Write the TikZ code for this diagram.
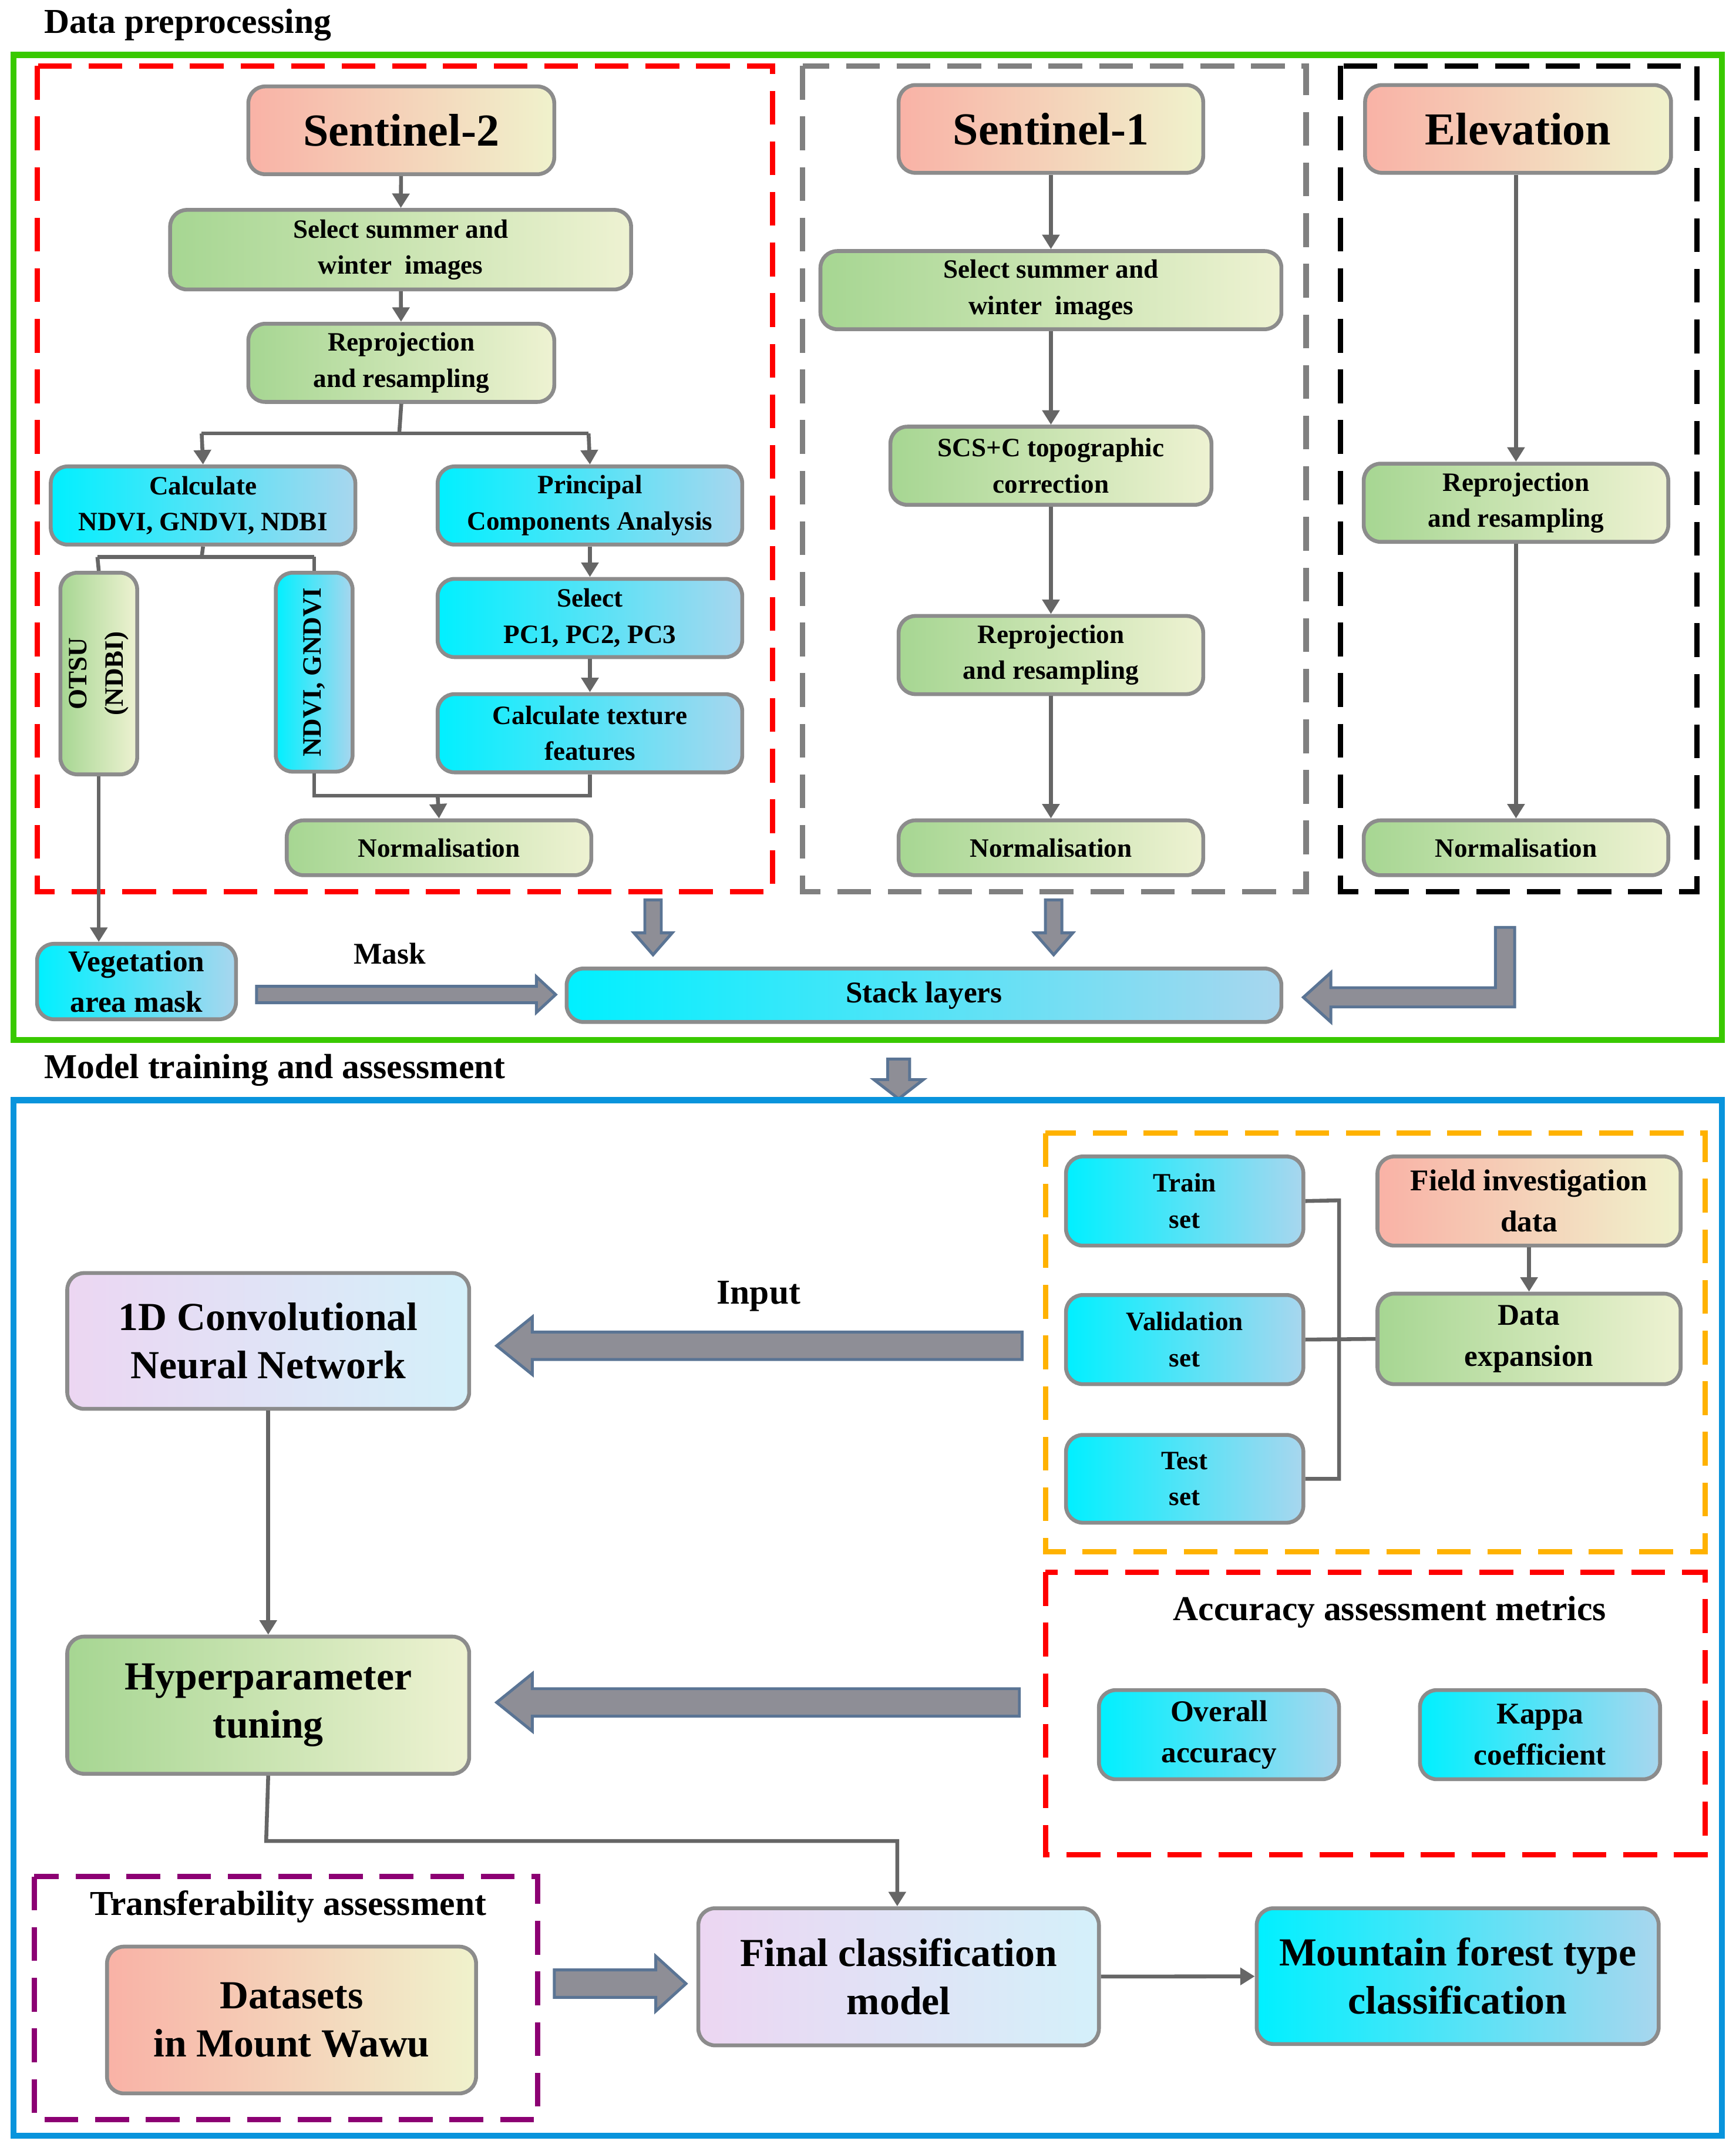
\documentclass[tikz,border=0pt]{standalone}
\usepackage{fontspec}
\setmainfont{Liberation Serif}
\usetikzlibrary{arrows.meta}
\definecolor{sal}{HTML}{F9B2A6}\definecolor{cre}{HTML}{F0F2CC}
\definecolor{grn}{HTML}{A6D692}\definecolor{grl}{HTML}{EEF2D2}
\definecolor{cya}{HTML}{00F0FF}\definecolor{cyl}{HTML}{A8D6EE}
\definecolor{lav}{HTML}{ECD6F2}\definecolor{lal}{HTML}{D4F0FA}
\definecolor{bord}{HTML}{8C8C8C}\definecolor{arf}{HTML}{8E8E96}\definecolor{arb}{HTML}{5A7494}
\tikzset{
 box/.style={draw=bord,line width=1.6pt,rounded corners=7pt,inner sep=1pt,align=center,font=\bfseries\fontsize{11}{15}\selectfont},
 pk/.style={box,left color=sal,right color=cre},
 gr/.style={box,left color=grn,right color=grl},
 cy/.style={box,left color=cya,right color=cyl},
 lv/.style={box,left color=lav,right color=lal},
 big/.style={font=\bfseries\fontsize{19}{21}\selectfont},
 mid/.style={font=\bfseries\fontsize{12.5}{17}\selectfont},
 lg/.style={font=\bfseries\fontsize{16.5}{20}\selectfont},
 con/.style={draw=gray!80!black,line width=1.6pt},
 arr/.style={con,-{Triangle[width=7pt,length=6pt]}},
 fr/.style={line width=2.2pt,dash pattern=on 14pt off 7pt},
 bar/.style={draw=arb,fill=arf,line width=1.2pt},
 lab/.style={font=\bfseries\fontsize{14.5}{16}\selectfont}
}
\newcommand\bx[7]{\node[#6,minimum width={(#4-#2)*0.02cm},minimum height={(#5-#3)*0.02cm}] (#1) at ({(#2+#4)/2},{(#3+#5)/2}) {#7};}
\newcommand\harl[6]{\draw[bar] (#1,#3-#4)--(#2+#6,#3-#4)--(#2+#6,#3-#5)--(#2,#3)--(#2+#6,#3+#5)--(#2+#6,#3+#4)--(#1,#3+#4)--cycle;}
\newcommand\harr[6]{\draw[bar] (#1,#3-#4)--(#2-#6,#3-#4)--(#2-#6,#3-#5)--(#2,#3)--(#2-#6,#3+#5)--(#2-#6,#3+#4)--(#1,#3+#4)--cycle;}
\newcommand\vard[6]{\draw[bar] (#3-#4,#1)--(#3-#4,#2-#6)--(#3-#5,#2-#6)--(#3,#2)--(#3+#5,#2-#6)--(#3+#4,#2-#6)--(#3+#4,#1)--cycle;}
\begin{document}
\begin{tikzpicture}[x=0.02cm,y=-0.02cm]
\useasboundingbox (0,0) rectangle (1265,1568);
\node[lab,anchor=west] (t1) at (26,18) {Data preprocessing};
\draw[line width=2.5pt,draw=green!70!black!70!lime] (10,40) rectangle (1255,758);
\draw[fr,red] (27,48) rectangle (563,650);
\draw[fr,gray] (585,48) rectangle (952,650);
\draw[fr,black] (977,48) rectangle (1237,650);
% Sentinel-2
\bx{s2}{181}{63}{404}{127}{pk,big}{Sentinel-2}
\bx{s2a}{124}{153}{460}{211}{gr}{Select summer and\\winter\ \ images}
\bx{s2b}{181}{236}{404}{293}{gr}{Reprojection\\and resampling}
\bx{cal}{37}{340}{259}{397}{cy}{Calculate\\NDVI, GNDVI, NDBI}
\bx{pca}{319}{340}{541}{397}{cy}{Principal\\Components Analysis}
\node[gr,rotate=90,minimum width={147*0.02cm},minimum height={56*0.02cm}] (otsu) at (72,491) {OTSU\\(NDBI)};
\node[cy,rotate=90,minimum width={145*0.02cm},minimum height={56*0.02cm}] (ndv) at (229,490) {NDVI, GNDVI};
\bx{pc}{319}{422}{541}{479}{cy}{Select\\PC1, PC2, PC3}
\bx{tex}{319}{506}{541}{563}{cy}{Calculate texture\\features}
\bx{n2}{209}{598}{431}{638}{gr}{Normalisation}
\draw[arr] (s2) -- (s2a);
\draw[arr] (s2a) -- (s2b);
\draw[con] (s2b.south) -- (291,316) coordinate (j1);
\draw[arr] (147,316) -- (cal.north);
\draw[arr] (429,316) -- (pca.north);
\draw[con] (147,316) -- (429,316);
\draw[con] (cal.south) -- (147,406) coordinate (j2);
\draw[con] (71,406) -- (229,406);
\draw[con] (71,406) -- (otsu.east);
\draw[con] (229,406) -- (ndv.east);
\draw[arr] (pca) -- (pc);
\draw[arr] (pc) -- (tex);
\draw[con] (ndv.west) -- (229,580) -- (430,580) -- (tex.south);
\draw[arr] (319,580) -- (n2.north);
% Sentinel-1
\bx{s1}{655}{62}{877}{126}{pk,big}{Sentinel-1}
\bx{s1a}{598}{183}{934}{240}{gr}{Select summer and\\winter\ \ images}
\bx{s1b}{649}{311}{883}{368}{gr}{SCS+C topographic\\correction}
\bx{s1c}{655}{449}{877}{506}{gr}{Reprojection\\and resampling}
\bx{n1}{655}{598}{877}{638}{gr}{Normalisation}
\draw[arr] (s1)--(s1a); \draw[arr] (s1a)--(s1b); \draw[arr] (s1b)--(s1c); \draw[arr] (s1c)--(n1);
% Elevation
\bx{el}{995}{62}{1218}{126}{pk,big}{Elevation}
\bx{ela}{994}{338}{1216}{395}{gr}{Reprojection\\and resampling}
\bx{ne}{994}{598}{1216}{638}{gr}{Normalisation}
\draw[arr] (el.south-|ela) -- (ela); \draw[arr] (ela)--(ne);
% bottom of preprocessing
\bx{veg}{27}{688}{172}{743}{cy,mid}{Vegetation\\area mask}
\draw[arr] (otsu.west) -- (veg.north-|otsu.west);
\bx{st}{413}{706}{934}{745}{cy,mid}{Stack layers}
\node[mid] (mk) at (284,695) {Mask};
\harr{187}{405}{725}{6}{13}{14}
\vard{656}{696}{476}{6}{14}{16}
\vard{656}{696}{768}{6}{14}{16}
\draw[bar] (1090,676)--(1104,676)--(1104,734)--(970,734)--(970,745)--(950,727)--(970,709)--(970,720)--(1090,720)--cycle;
% Model training
\node[lab,anchor=west] (t2) at (26,780) {Model training and assessment};
\vard{772}{801}{655}{8}{18}{14}
\draw[line width=2.5pt,draw=cyan!80!blue] (10,802) rectangle (1255,1557);
\draw[fr,orange!60!yellow] (762,826) rectangle (1243,1131);
\bx{tr}{777}{843}{950}{908}{cy}{Train\\set}
\bx{va}{777}{944}{950}{1009}{cy}{Validation\\set}
\bx{te}{777}{1046}{950}{1110}{cy}{Test\\set}
\bx{fi}{1004}{843}{1225}{908}{pk,mid}{Field investigation\\data}
\bx{de}{1004}{943}{1225}{1009}{gr,mid}{Data\\expansion}
\draw[arr] (fi)--(de);
\draw[con] (tr.east) -- (976,875) -- (976,1078) -- (te.east);
\draw[con] (va.east) -- (de.west);
\bx{cnn}{49}{928}{342}{1027}{lv,lg}{1D Convolutional\\Neural Network}
\node[lab] (inp) at (553,945) {Input};
\harl{745}{362}{981}{10}{21}{26}
\bx{hy}{49}{1193}{342}{1293}{gr,lg}{Hyperparameter\\tuning}
\harl{743}{362}{1241}{10}{21}{26}
\draw[arr] (cnn)--(hy);
\draw[fr,red] (762,1146) rectangle (1243,1352);
\node[lab] (acc) at (1013,1175) {Accuracy assessment metrics};
\bx{oa}{801}{1232}{976}{1297}{cy,mid}{Overall\\accuracy}
\bx{ka}{1035}{1232}{1210}{1297}{cy,mid}{Kappa\\coefficient}
\draw[fr,violet!80!purple] (25,1368) rectangle (392,1545);
\node[lab] (ta) at (210,1390) {Transferability assessment};
\bx{ds}{78}{1419}{347}{1526}{pk,lg}{Datasets\\in Mount Wawu}
\bx{fc}{509}{1391}{801}{1491}{lv,lg}{Final classification\\model}
\bx{mf}{916}{1391}{1209}{1490}{cy,lg}{Mountain forest type\\classification}
\draw[arr] (hy.south) -- (194,1342) -- (654,1342) -- (fc.north-|654,0);
\harr{404}{500}{1446}{10}{20}{22}
\draw[arr] (fc)--(mf);
\end{tikzpicture}
\end{document}
